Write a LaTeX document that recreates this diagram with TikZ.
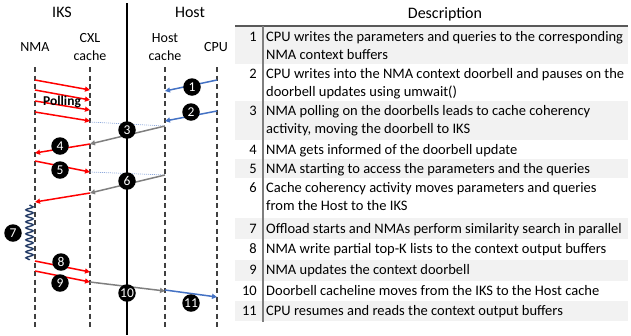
\documentclass[tikz,border=0pt]{standalone}
\usepackage{fontspec}
\setmainfont{Carlito}
\usetikzlibrary{arrows.meta,decorations.pathmorphing}
\definecolor{myred}{HTML}{FF0000}
\definecolor{myblue}{HTML}{4472C4}
\definecolor{mygrey}{HTML}{7F7F7F}
\definecolor{mydot}{HTML}{8FAADC}
\definecolor{mynavy}{HTML}{203864}
\definecolor{band}{HTML}{F2F2F2}
\definecolor{lifeln}{HTML}{404040}
\definecolor{rulec}{HTML}{595959}
\begin{document}
\begin{tikzpicture}[x=1pt,y=-1pt,
  msg/.style={line width=1.5pt,-{Triangle[length=5pt,width=5pt]}},
  redmsg/.style={msg,myred},
  bluemsg/.style={msg,myblue},
  greymsg/.style={msg,mygrey},
  dotline/.style={mydot,line width=0.7pt,dash pattern=on 1pt off 1pt},
  lifeline/.style={lifeln,line width=1.3pt,dash pattern=on 5pt off 3.5pt},
  num/.style={circle,fill=black,text=white,minimum size=17.5pt,inner sep=0pt,font=\fontsize{13.5}{13.5}\selectfont},
  big/.style={font=\fontsize{16}{19}\selectfont},
  head/.style={font=\fontsize{14}{17.5}\selectfont,align=center},
  numtxt/.style={anchor=base east,font=\fontsize{14.5}{18}\selectfont,inner sep=0pt},
  rowtxt/.style={anchor=base west,font=\fontsize{14.5}{18}\selectfont,inner sep=0pt},
  bandbox/.style={fill=band,draw=none}
]
\useasboundingbox (0,0) rectangle (631,335);

% ---------- left: sequence diagram ----------
\node[big] (iks) at (62,12) {IKS};
\node[big] (host) at (190,12) {Host};
\node[head] (nma) at (35,47) {NMA};
\node[head] (cxl) at (90,47) {CXL\\cache};
\node[head] (hc) at (165,47) {Host\\cache};
\node[head] (cpu) at (216,47) {CPU};

\coordinate (divT) at (127,3);
\coordinate (divB) at (127,335);
\draw[black,line width=1.2pt] (divT) -- (divB);

\coordinate (nmaT) at (35,67);  \coordinate (nmaB) at (35,328);
\coordinate (cxlT) at (90,67);  \coordinate (cxlB) at (90,328);
\coordinate (hcT) at (165,67);  \coordinate (hcB) at (165,328);
\coordinate (cpuT) at (217,67); \coordinate (cpuB) at (217,328);
\draw[lifeline] (nmaT) -- (nmaB);
\draw[lifeline] (cxlT) -- (cxlB);
\draw[lifeline] (hcT) -- (hcB);
\draw[lifeline] (cpuT) -- (cpuB);

% polling
\coordinate (pa1) at (35,80);  \coordinate (pb1) at (90,90);
\coordinate (pa2) at (35,90);  \coordinate (pb2) at (90,100);
\coordinate (pa3) at (35,101); \coordinate (pb3) at (90,110);
\coordinate (pa4) at (35,112); \coordinate (pb4) at (90,121);
\draw[redmsg] (pa1) -- (pb1);
\draw[redmsg] (pa2) -- (pb2);
\draw[redmsg] (pa3) -- (pb3);
\draw[redmsg] (pa4) -- (pb4);
\node[font=\bfseries\fontsize{13.5}{16}\selectfont,inner sep=0pt] (poll) at (62,102) {Polling};

% 1, 2
\coordinate (a1) at (217,80);  \coordinate (b1) at (165,91);
\coordinate (a2) at (217,111); \coordinate (b2) at (165,121);
\draw[bluemsg] (a1) -- (b1);
\draw[bluemsg] (a2) -- (b2);

% 3
\coordinate (d3a) at (90,122); \coordinate (d3b) at (165,126);
\draw[dotline] (d3a) -- (d3b);
\coordinate (b3) at (90,144);
\draw[greymsg] (d3b) -- (b3);

% 4
\coordinate (b4) at (35,153);
\draw[redmsg] (b3) -- (b4);

% 5
\coordinate (a5) at (35,161); \coordinate (b5) at (90,172);
\draw[redmsg] (a5) -- (b5);

% 6
\coordinate (d6b) at (165,175);
\draw[dotline] (b5) -- (d6b);
\coordinate (b6) at (90,193);
\draw[greymsg] (d6b) -- (b6);
\coordinate (b6r) at (35,202);
\draw[redmsg] (b6) -- (b6r);

% 7
\coordinate (sq1) at (29.5,205); \coordinate (sq2) at (29.5,260);
\draw[mynavy,line width=1.4pt,decorate,decoration={snake,amplitude=3.6pt,segment length=6pt}] (sq1) -- (sq2);

% 8, 9
\coordinate (a8) at (35,261); \coordinate (b8) at (90,272);
\coordinate (a9) at (35,271); \coordinate (b9) at (90,282);
\draw[redmsg] (a8) -- (b8);
\draw[redmsg] (a9) -- (b9);

% 10, 11
\coordinate (b10) at (165,291);
\draw[greymsg] (b9) -- (b10);
\coordinate (a11) at (165,290); \coordinate (b11) at (217,297);
\draw[bluemsg] (a11) -- (b11);

% circles
\node[num] (c1) at (192,87) {1};
\node[num] (c2) at (191,112) {2};
\node[num] (c3) at (127,130) {3};
\node[num] (c4) at (60,146) {4};
\node[num] (c5) at (60,170) {5};
\node[num] (c6) at (127,181) {6};
\node[num] (c7) at (13,233) {7};
\node[num] (c8) at (61,262) {8};
\node[num] (c9) at (60,283) {9};
\node[num] (c10) at (127,293) {10};
\node[num] (c11) at (191,303) {11};

% ---------- right: table ----------
\fill[band] (235,26) rectangle (628,64);
\fill[band] (235,101) rectangle (628,140);
\fill[band] (235,159) rectangle (628,178);
\fill[band] (235,218) rectangle (628,239);
\fill[band] (235,260) rectangle (628,281);
\fill[band] (235,301) rectangle (628,321);

\node[big] (desc) at (445,14) {Description};
\coordinate (ruleL) at (235,26); \coordinate (ruleR) at (628,26);
\draw[rulec,line width=1.3pt] (ruleL) -- (ruleR);
\coordinate (vT) at (263,26); \coordinate (vB) at (263,322);
\draw[mygrey,line width=1.8pt] (vT) -- (vB);

\node[numtxt] (n1) at (257,41.5) {1};
\node[rowtxt] (t1a) at (266,41.5) {CPU writes the parameters and queries to the corresponding};
\node[rowtxt] (t1b) at (266,59.5) {NMA context buffers};
\node[numtxt] (n2) at (257,78.5) {2};
\node[rowtxt] (t2a) at (266,78.5) {CPU writes into the NMA context doorbell and pauses on the};
\node[rowtxt] (t2b) at (266,96.5) {doorbell updates using umwait()};
\node[numtxt] (n3) at (257,115.5) {3};
\node[rowtxt] (t3a) at (266,115.5) {NMA polling on the doorbells leads to cache coherency};
\node[rowtxt] (t3b) at (266,133.5) {activity, moving the doorbell to IKS};
\node[numtxt] (n4) at (257,154.5) {4};
\node[rowtxt] (t4) at (266,154.5) {NMA gets informed of the doorbell update};
\node[numtxt] (n5) at (257,173.5) {5};
\node[rowtxt] (t5) at (266,173.5) {NMA starting to access the parameters and the queries};
\node[numtxt] (n6) at (257,192.5) {6};
\node[rowtxt] (t6a) at (266,192.5) {Cache coherency activity moves parameters and queries};
\node[rowtxt] (t6b) at (266,210.5) {from the Host to the IKS};
\node[numtxt] (n7) at (257,233.5) {7};
\node[rowtxt] (t7) at (266,233.5) {Offload starts and NMAs perform similarity search in parallel};
\node[numtxt] (n8) at (257,253.5) {8};
\node[rowtxt] (t8) at (266,253.5) {NMA write partial top-K lists to the context output buffers};
\node[numtxt] (n9) at (257,274.5) {9};
\node[rowtxt] (t9) at (266,274.5) {NMA updates the context doorbell};
\node[numtxt] (n10) at (257,295.5) {10};
\node[rowtxt] (t10) at (266,295.5) {Doorbell cacheline moves from the IKS to the Host cache};
\node[numtxt] (n11) at (257,315.5) {11};
\node[rowtxt] (t11) at (266,315.5) {CPU resumes and reads the context output buffers};
\end{tikzpicture}
\end{document}
